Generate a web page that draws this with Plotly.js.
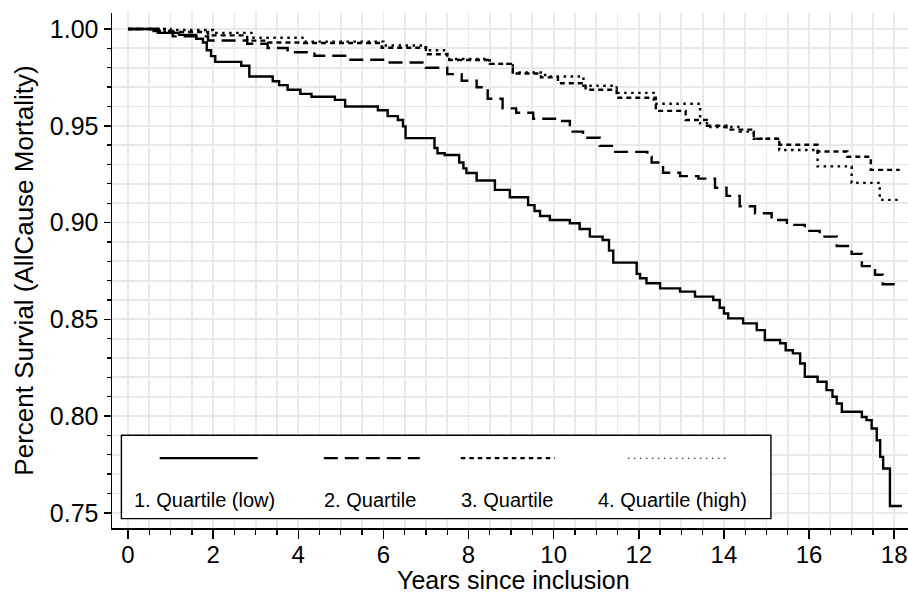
<!DOCTYPE html>
<html>
<head>
<meta charset="utf-8">
<script src="https://cdn.plot.ly/plotly-3.0.1.min.js"></script>
<style>html,body{margin:0;padding:0;background:#fff;}#chart{width:908px;height:593px;}</style>
</head>
<body>
<div id="chart"></div>
<script>
// Kaplan-Meier step data (years since inclusion, survival proportion)
const seriesNames = ["1. Quartile (low)", "2. Quartile", "3. Quartile", "4. Quartile (high)"];

const q1Years = [0, 0.7, 1.2, 1.6, 1.76, 1.85, 1.95, 2.05, 2.66, 2.85, 3.4, 3.55, 3.75, 4.05, 4.31, 4.86, 5.1, 5.87, 6.1, 6.34, 6.46, 6.52, 7.2, 7.27, 7.44, 7.78, 7.88, 7.95, 8.19, 8.62, 8.97, 9.4, 9.55, 9.68, 9.91, 10.38, 10.61, 10.85, 11.15, 11.3, 11.4, 11.95, 12.03, 12.18, 12.5, 12.97, 13.32, 13.75, 13.9, 14.0, 14.1, 14.45, 14.77, 14.96, 15.32, 15.45, 15.62, 15.79, 15.9, 16.2, 16.41, 16.55, 16.65, 16.77, 17.24, 17.35, 17.47, 17.59, 17.67, 17.74, 17.9, 18.18];
const q1Surv  = [1.0, 0.998, 0.997, 0.995, 0.993, 0.989, 0.986, 0.983, 0.981, 0.9755, 0.973, 0.971, 0.9686, 0.9665, 0.965, 0.9634, 0.96, 0.958, 0.955, 0.953, 0.9497, 0.9436, 0.9385, 0.9358, 0.9349, 0.931, 0.928, 0.9256, 0.9217, 0.9169, 0.9131, 0.909, 0.906, 0.9034, 0.9013, 0.8996, 0.8967, 0.8927, 0.891, 0.8855, 0.8793, 0.8735, 0.8712, 0.8686, 0.866, 0.8643, 0.8617, 0.86, 0.856, 0.853, 0.8505, 0.8479, 0.8444, 0.8393, 0.8376, 0.834, 0.8324, 0.8272, 0.8203, 0.8177, 0.8134, 0.81, 0.8065, 0.8022, 0.7995, 0.7979, 0.7936, 0.7875, 0.7789, 0.7729, 0.7535, 0.7535];

const q2Years = [0, 0.6, 1.05, 1.88, 2.8, 3.28, 3.75, 4.38, 5.1, 6.03, 7.0, 7.5, 7.84, 8.19, 8.45, 8.8, 9.12, 9.52, 10.06, 10.38, 10.69, 11.08, 11.4, 12.2, 12.3, 12.57, 12.97, 13.4, 13.79, 14.06, 14.37, 14.73, 15.12, 15.48, 15.9, 16.25, 16.65, 17.0, 17.24, 17.55, 17.73, 18.13];
const q2Surv  = [1.0, 0.999, 0.9962, 0.9941, 0.9924, 0.9902, 0.988, 0.9862, 0.9841, 0.9827, 0.98, 0.9767, 0.9733, 0.9699, 0.964, 0.959, 0.9567, 0.9536, 0.9525, 0.947, 0.9438, 0.9396, 0.9365, 0.934, 0.931, 0.9257, 0.924, 0.9227, 0.918, 0.9138, 0.9084, 0.9048, 0.9013, 0.8988, 0.8957, 0.8927, 0.8879, 0.8838, 0.8775, 0.873, 0.8681, 0.8681];

const q3Years = [0, 0.86, 1.88, 2.8, 3.3, 4.1, 5.96, 7.0, 7.5, 8.5, 9.04, 9.7, 10.1, 10.75, 11.48, 12.4, 13.1, 13.6, 14.06, 14.7, 15.3, 16.2, 16.9, 17.45, 18.13];
const q3Surv  = [1.0, 0.9985, 0.9967, 0.994, 0.993, 0.9928, 0.9903, 0.987, 0.984, 0.982, 0.977, 0.975, 0.972, 0.9686, 0.9645, 0.9577, 0.953, 0.95, 0.948, 0.9433, 0.9402, 0.9367, 0.934, 0.9272, 0.9272];

const q4Years = [0, 1.0, 2.0, 2.9, 4.1, 6.0, 7.0, 7.5, 8.5, 9.04, 9.8, 10.7, 11.48, 12.35, 13.44, 13.6, 14.37, 14.7, 15.3, 16.2, 17.0, 17.66, 18.13];
const q4Surv  = [1.0, 0.9995, 0.998, 0.9955, 0.9935, 0.9915, 0.989, 0.9845, 0.982, 0.9775, 0.9755, 0.9707, 0.967, 0.9614, 0.9513, 0.9494, 0.947, 0.9433, 0.9375, 0.929, 0.9205, 0.9117, 0.9117];

const xTickVals = [0, 2, 4, 6, 8, 10, 12, 14, 16, 18];
const yTickVals = [0.75, 0.80, 0.85, 0.90, 0.95, 1.00];
const xTitle = 'Years since inclusion';
const yTitle = 'Percent Survial (AllCause Mortality)';

const lineStyles = [
  {color: '#000', width: 2.4, dash: 'solid'},
  {color: '#000', width: 2.4, dash: '14px,7px'},
  {color: '#000', width: 2.4, dash: '5px,4px'},
  {color: '#000', width: 2.4, dash: '2.5px,4.5px'}
];
const legendStyles = [
  {color: '#000', width: 2.2, dash: 'solid'},
  {color: '#000', width: 2.2, dash: '14px,7px'},
  {color: '#000', width: 2.2, dash: '4.5px,4px'},
  {color: '#000', width: 1.1, dash: '1.5px,4.5px'}
];

const xs = [q1Years, q2Years, q3Years, q4Years];
const ys = [q1Surv, q2Surv, q3Surv, q4Surv];

const traces = xs.map((x, i) => ({
  x: x, y: ys[i], type: 'scatter', mode: 'lines', name: seriesNames[i],
  line: Object.assign({shape: 'hv'}, lineStyles[i]), hoverinfo: 'skip'
}));

// Manual legend (symbols above labels, boxed)
const legX = [[0.0599, 0.1831], [0.2661, 0.3867], [0.4382, 0.5564], [0.6481, 0.7725]];
const legTextX = [0.1157, 0.3238, 0.4961, 0.7047];
const shapes = [{
  type: 'rect', xref: 'paper', yref: 'paper', x0: 0.0118, x1: 0.8278, y0: 0.0183, y1: 0.1802,
  fillcolor: '#fff', line: {color: '#000', width: 1.4}, layer: 'above'
}];
legX.forEach((p, i) => shapes.push({
  type: 'line', xref: 'paper', yref: 'paper', x0: p[0], x1: p[1], y0: 0.1355, y1: 0.1355,
  line: legendStyles[i], layer: 'above'
}));
const annotations = seriesNames.map((n, i) => ({
  xref: 'paper', yref: 'paper', x: legTextX[i], y: 0.0538, text: n, showarrow: false,
  xanchor: 'center', yanchor: 'middle', font: {size: 20, color: '#000'}
}));
// x-axis title placed as annotation for exact position
annotations.push({
  xref: 'paper', yref: 'paper', x: 0.5048, y: -0.1005, text: xTitle, showarrow: false,
  xanchor: 'center', yanchor: 'middle', font: {size: 25, color: '#000'}
});

const gridColor = '#e9e9e9';
const layout = {
  width: 908, height: 593,
  margin: {l: 112.3, r: 0, t: 13.3, b: 65.3, pad: 0},
  paper_bgcolor: '#fff', plot_bgcolor: '#fff',
  showlegend: false,
  font: {family: 'Liberation Sans, Arial, Helvetica, sans-serif', color: '#000'},
  xaxis: {
    range: [-0.376, 18.324], tickvals: xTickVals, ticktext: xTickVals.map(String),
    ticks: 'outside', ticklen: 9, tickwidth: 1.5, tickcolor: '#000',
    ticklabeloverflow: 'allow', ticklabelstandoff: -4,
    showline: true, linecolor: '#000', linewidth: 1.5,
    showgrid: true, gridcolor: gridColor, gridwidth: 1.8, zeroline: false,
    tickfont: {size: 24, color: '#000'},
    minor: {dtick: 0.5, tick0: 0, ticks: 'outside', ticklen: 5, tickwidth: 1.3, tickcolor: '#000', showgrid: true, gridcolor: gridColor, gridwidth: 1.8}
  },
  yaxis: {
    range: [0.74216, 1.00828], tickvals: yTickVals, ticktext: yTickVals.map(v => v.toFixed(2)),
    ticks: 'outside', ticklen: 7, tickwidth: 1.5, tickcolor: '#000',
    showline: true, linecolor: '#000', linewidth: 1.5,
    showgrid: true, gridcolor: gridColor, gridwidth: 1.8, zeroline: false,
    tickfont: {size: 25, color: '#000'},
    minor: {dtick: 0.01, tick0: 0.75, ticks: 'outside', ticklen: 4, tickwidth: 1.3, tickcolor: '#000', showgrid: true, gridcolor: gridColor, gridwidth: 1.8},
    title: {text: yTitle, font: {size: 26, color: '#000'}, standoff: 8}
  },
  shapes: shapes,
  annotations: annotations
};

Plotly.newPlot('chart', traces, layout, {staticPlot: true, displayModeBar: false});
</script>
</body>
</html>
